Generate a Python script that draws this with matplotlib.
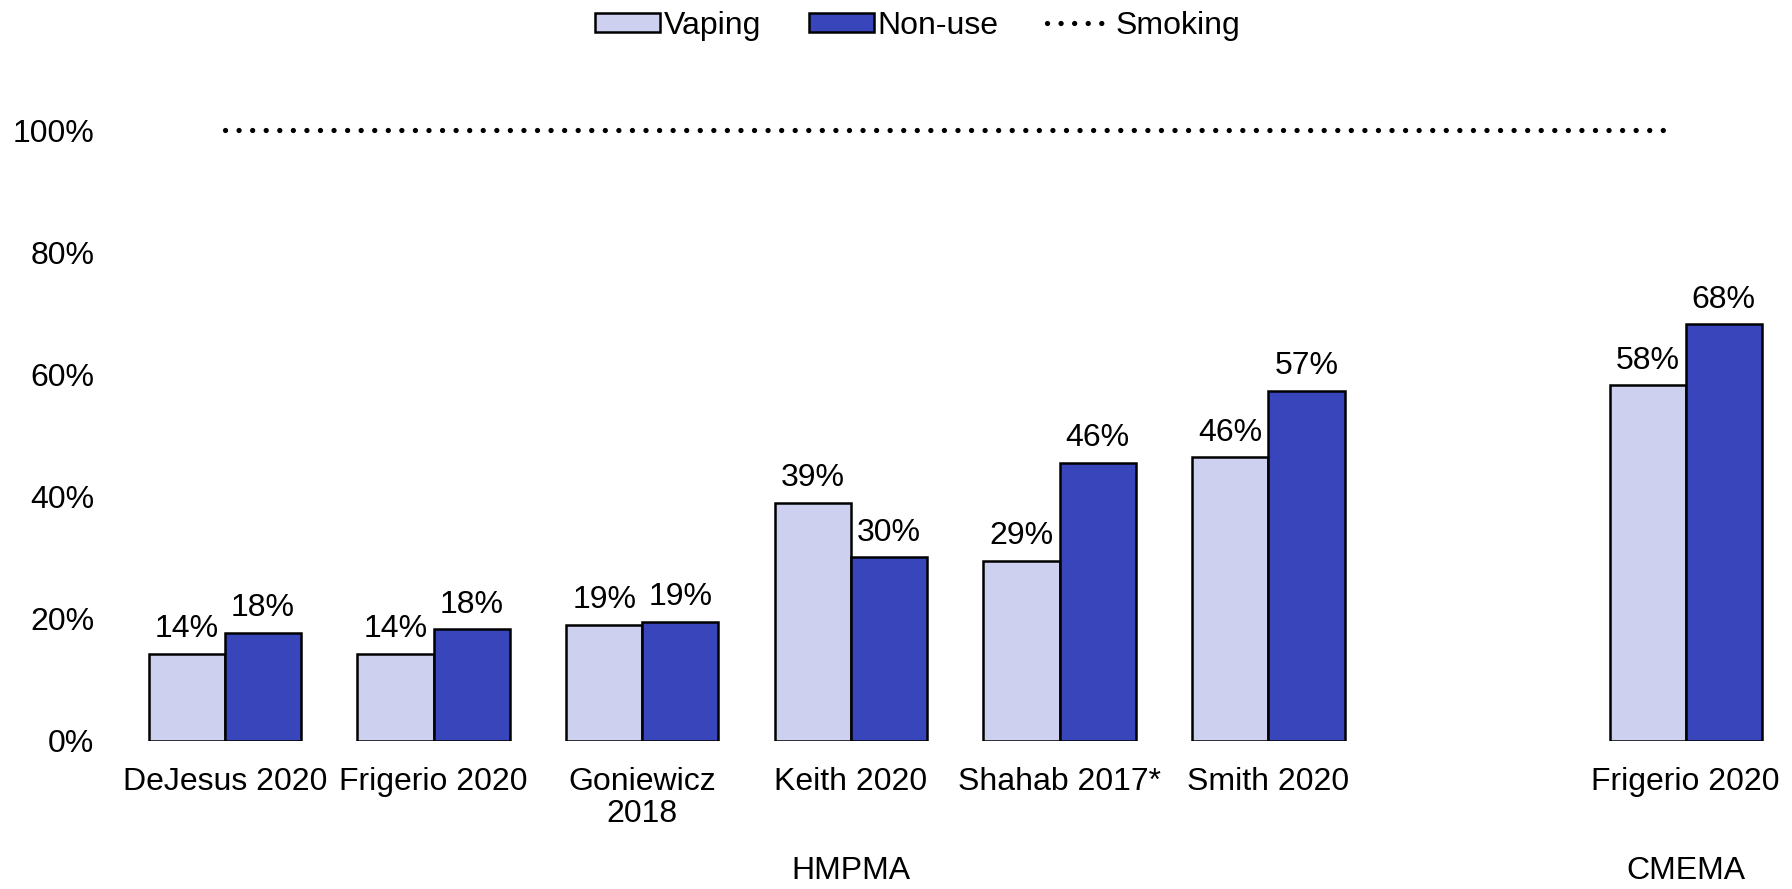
import matplotlib.pyplot as plt
from matplotlib.lines import Line2D
from matplotlib.patches import Patch

plt.rcParams['font.family'] = ['Liberation Sans', 'DejaVu Sans']

studies = ['DeJesus 2020', 'Frigerio 2020', 'Goniewicz\n2018', 'Keith 2020',
           'Shahab 2017*', 'Smith 2020', 'Frigerio 2020']
positions = [0, 1, 2, 3, 4, 5, 7]
vaping = [14.2, 14.2, 18.9, 39.0, 29.4, 46.4, 58.2]
non_use = [17.6, 18.2, 19.4, 30.0, 45.5, 57.3, 68.2]
smoking = 100
groups = ['HMPMA', 'CMEMA']
group_pos = [3, 7]

light = '#cdd0ee'
dark = '#3945ba'
width = 0.365
fs = 23
dots = (0, (0.01, 2.56))

fig = plt.figure(figsize=(17.92, 8.89), dpi=100)
ax = fig.add_axes([0.0673, 0.167, 0.9316, 0.6865])

xv = [p - width / 2 for p in positions]
xn = [p + width / 2 for p in positions]
bv = ax.bar(xv, vaping, width, color=light, edgecolor='black', linewidth=1.8)
bn = ax.bar(xn, non_use, width, color=dark, edgecolor='black', linewidth=1.8)

for bars, vals in ((bv, vaping), (bn, non_use)):
    for b, v in zip(bars, vals):
        ax.annotate(f'{v:.0f}%', (b.get_x() + b.get_width() / 2, v),
                    xytext=(0, 7), textcoords='offset points',
                    ha='center', va='bottom', fontsize=fs)

# smoking reference line at 100%
ax.plot([0, 6.94], [smoking, smoking], color='black', linestyle=dots,
        linewidth=3.8, dash_capstyle='round', clip_on=False)

ax.set_xlim(-0.5, 7.5)
ax.set_ylim(0, 100)
ax.set_yticks(range(0, 101, 20))
ax.set_yticklabels([f'{t}%' for t in range(0, 101, 20)], fontsize=fs)
ax.set_xticks(positions)
ax.set_xticklabels(studies, fontsize=fs, linespacing=1.1)
ax.tick_params(length=0)
ax.tick_params(axis='x', pad=19)
ax.tick_params(axis='y', pad=19)
for s in ax.spines.values():
    s.set_visible(False)

for g, p in zip(groups, group_pos):
    ax.annotate(g, (p, 0), xytext=(0, -94), textcoords='offset points',
                ha='center', va='center', fontsize=fs)

handles = [Patch(facecolor=light, edgecolor='black', linewidth=1.8),
           Patch(facecolor=dark, edgecolor='black', linewidth=1.8),
           Line2D([], [], color='black', linestyle=dots, linewidth=3.8,
                  dash_capstyle='round')]
fig.legend(handles, ['Vaping', 'Non-use', 'Smoking'], loc='center',
           bbox_to_anchor=(0.512, 0.971), ncol=3, frameon=False, fontsize=fs,
           handlelength=2.05, handleheight=0.55, handletextpad=0.1,
           columnspacing=1.5)

fig.savefig('out.png', dpi=100)
